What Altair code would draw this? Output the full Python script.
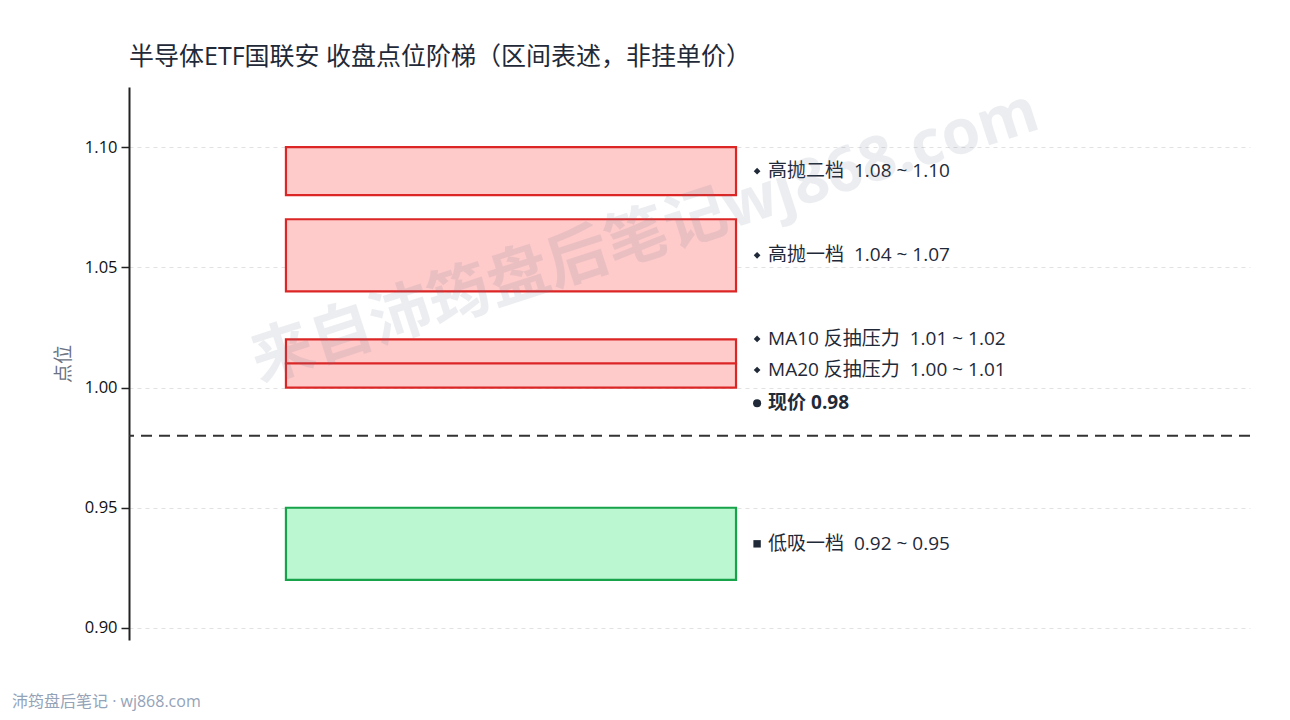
import altair as alt
import pandas as pd

# ---- data ----
zone_names = ["高抛二档", "高抛一档", "MA10 反抽压力", "MA20 反抽压力", "低吸一档"]
zone_low = [1.08, 1.04, 1.01, 1.00, 0.92]
zone_high = [1.10, 1.07, 1.02, 1.01, 0.95]
zone_kind = ["压力", "压力", "压力", "压力", "支撑"]
# label anchor positions (in price units, adjusted to avoid overlap)
label_pos = [1.09, 1.055, 1.0202, 1.0073, 0.935]
current_price = [0.98]
current_label_pos = [0.9935]
y_ticks = [0.90, 0.95, 1.00, 1.05, 1.10]

FONT = "Open Sans, Noto Sans CJK SC, sans-serif"
NB = "\u00a0"

zones = pd.DataFrame({
    "name": zone_names, "low": zone_low, "high": zone_high,
    "kind": zone_kind, "ly": label_pos,
})
zones["label"] = [f"{n}{NB}{NB}{l:.2f} ~ {h:.2f}" for n, l, h in zip(zone_names, zone_low, zone_high)]
cur = pd.DataFrame({"price": current_price, "ly": current_label_pos})
cur["label"] = [f"现价 {p:.2f}" for p in current_price]

xscale = alt.Scale(domain=[0, 1])
yscale = alt.Scale(domain=[0.895, 1.125], nice=False, zero=False)
yaxis = alt.Axis(
    values=y_ticks, format=".2f", title="点位", titleColor="#6b7280",
    titleFontSize=19, titleFont=FONT, titleFontWeight="normal", titlePadding=11,
    labelFont=FONT, labelFontSize=16.5, labelColor="#111111", labelPadding=4,
    domainColor="#222222", domainWidth=2, tickColor="#222222", tickWidth=1.5,
    tickSize=8, grid=True, gridColor="#e2e2e2", gridDash=[4, 4], gridWidth=1,
)

fill_scale = alt.Scale(domain=["压力", "支撑"], range=["#fecaca", "#bbf7d0"])
stroke_scale = alt.Scale(domain=["压力", "支撑"], range=["#dc2626", "#16a34a"])

base = alt.Chart(zones)

boxes = base.mark_rect(strokeWidth=2.2).encode(
    x=alt.XDatum(0.14, type="quantitative", scale=xscale, axis=None),
    x2=alt.X2Datum(0.5415),
    y=alt.Y("low:Q", scale=yscale, axis=yaxis),
    y2="high:Q",
    fill=alt.Fill("kind:N", scale=fill_scale, legend=None),
    stroke=alt.Stroke("kind:N", scale=stroke_scale, legend=None),
)

markers = base.mark_point(filled=True, opacity=1, color="#1f2937").encode(
    x=alt.XDatum(0.5603, type="quantitative", scale=xscale, axis=None),
    y=alt.Y("ly:Q", scale=yscale),
    shape=alt.Shape("kind:N", scale=alt.Scale(domain=["压力", "支撑"], range=["diamond", "square"]), legend=None),
    size=alt.Size("kind:N", scale=alt.Scale(domain=["压力", "支撑"], range=[45, 55]), legend=None),
)

labels = base.mark_text(align="left", baseline="middle", dx=11, font=FONT, fontSize=19, color="#1f2937").encode(
    x=alt.XDatum(0.5603, type="quantitative", scale=xscale, axis=None),
    y=alt.Y("ly:Q", scale=yscale),
    text="label:N",
)

cbase = alt.Chart(cur)
cur_rule = cbase.mark_rule(color="#333333", strokeWidth=2, strokeDash=[11, 7]).encode(
    y=alt.Y("price:Q", scale=yscale),
)
cur_point = cbase.mark_point(filled=True, opacity=1, shape="circle", size=65, color="#1f2937").encode(
    x=alt.XDatum(0.5603, type="quantitative", scale=xscale, axis=None),
    y=alt.Y("ly:Q", scale=yscale),
)
cur_text = cbase.mark_text(align="left", baseline="middle", dx=11, font=FONT, fontSize=19,
                           fontWeight="bold", color="#1f2937").encode(
    x=alt.XDatum(0.5603, type="quantitative", scale=xscale, axis=None),
    y=alt.Y("ly:Q", scale=yscale),
    text="label:N",
)

wm = alt.Chart(pd.DataFrame({"t": ["来自沛筠盘后笔记wj868.com"]})).mark_text(
    font=FONT, fontSize=62, fontWeight="bold", color="#64748b", opacity=0.12,
    angle=342, align="center", baseline="middle",
).encode(x=alt.value(516), y=alt.value(150), text="t:N")

footer = alt.Chart(pd.DataFrame({"t": ["沛筠盘后笔记 · wj868.com"]})).mark_text(
    font=FONT, fontSize=16, color="#94a3b8", align="left", baseline="middle",
).encode(x=alt.value(-117), y=alt.value(615), text="t:N")

chart = alt.layer(boxes, cur_rule, markers, labels, cur_point, cur_text, wm, footer).properties(
    width=1121, height=553,
    padding={"left": 121, "top": 79, "right": 32, "bottom": 72},
    autosize="none",
    title=alt.TitleParams(
        "半导体ETF国联安 收盘点位阶梯（区间表述，非挂单价）",
        anchor="start", frame="group", font=FONT, fontSize=25, fontWeight="normal",
        color="#1f2937", offset=10,
    ),
).configure(background="white").configure_view(strokeWidth=0, stroke="transparent")

chart.save("out.html", embed_options={"renderer": "svg", "actions": False})
